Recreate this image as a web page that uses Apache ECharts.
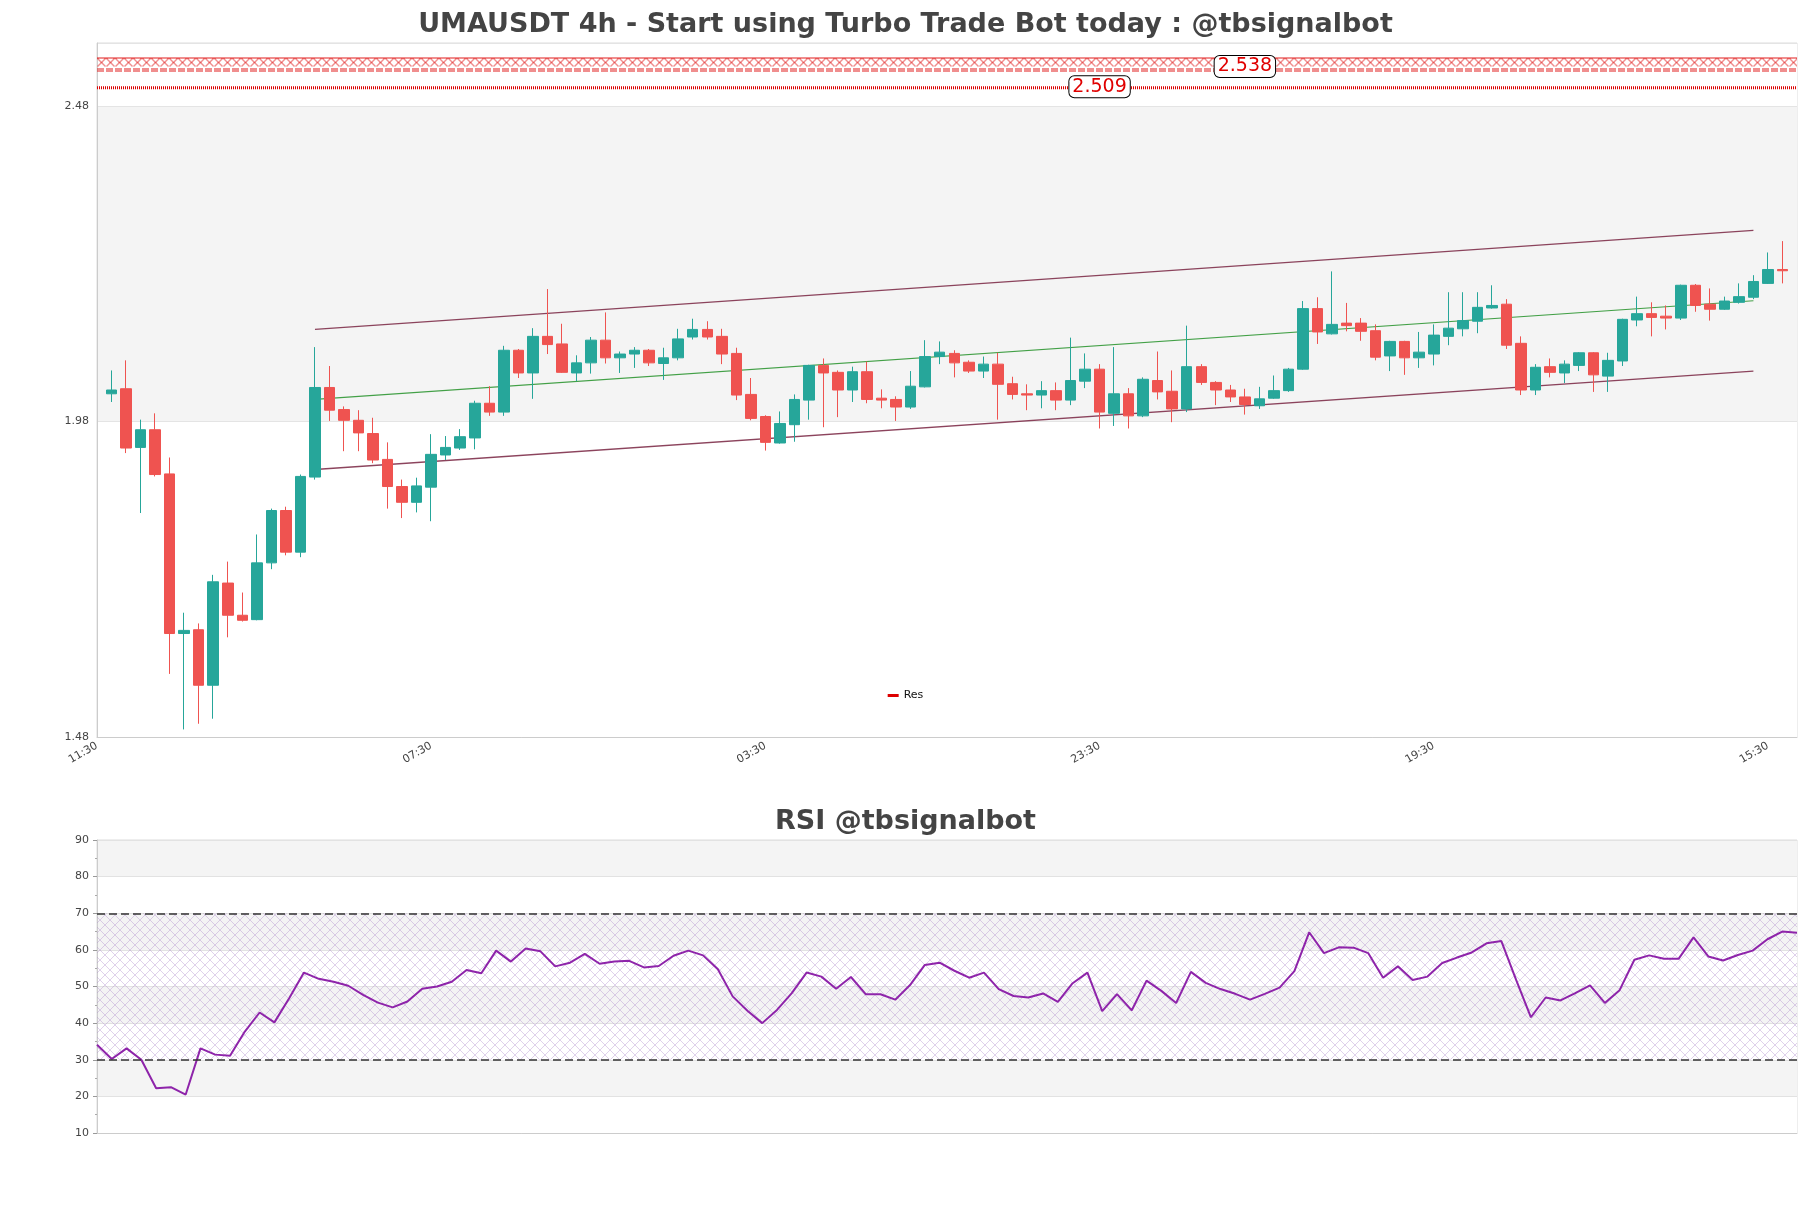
<!DOCTYPE html>
<html><head><meta charset="utf-8">
<script src="https://cdn.jsdelivr.net/npm/echarts@6/dist/echarts.min.js"></script>
<style>html,body{margin:0;padding:0;background:#fff}#c{width:1811px;height:1208px}</style>
</head><body><div id="c"></div>
<script>
// 4h candles; category axis labels (start 11:30, step 4h)
const timeCycle = ['11:30','15:30','19:30','23:30','03:30','07:30'];
const categories = Array.from({length: 118}, (_, i) => timeCycle[i % 6]);
const rsiCategories = categories.slice(1, 117);

const opens = [2.024,2.032,1.939,1.967,1.897,1.644,1.650,1.562,1.724,1.673,
1.666,1.756,1.839,1.773,1.892,2.034,1.999,1.982,1.961,1.920,
1.877,1.852,1.876,1.927,1.938,1.954,2.009,1.995,2.093,2.057,
2.115,2.103,2.057,2.073,2.109,2.081,2.087,2.093,2.072,2.081,
2.114,2.126,2.115,2.088,2.023,1.988,1.946,1.975,2.014,2.069,
2.058,2.030,2.059,2.017,2.015,2.003,2.035,2.083,2.088,2.074,
2.060,2.071,2.040,2.024,2.022,2.029,2.014,2.044,2.063,1.993,
2.024,1.989,2.045,2.028,2.000,2.067,2.042,2.030,2.019,2.005,
2.017,2.029,2.063,2.159,2.119,2.136,2.136,2.124,2.084,2.107,
2.081,2.087,2.115,2.127,2.139,2.160,2.166,2.104,2.030,2.067,
2.057,2.069,2.089,2.052,2.076,2.141,2.151,2.147,2.144,2.196,
2.166,2.158,2.169,2.177,2.199,2.221];
const closes = [2.030,1.938,1.967,1.896,1.644,1.649,1.562,1.726,1.673,1.665,
1.756,1.839,1.773,1.893,2.034,1.998,1.982,1.962,1.919,1.877,
1.852,1.878,1.928,1.939,1.956,2.009,1.995,2.093,2.057,2.115,
2.102,2.058,2.073,2.109,2.081,2.087,2.093,2.073,2.081,2.111,
2.126,2.114,2.087,2.022,1.985,1.947,1.977,2.015,2.069,2.057,
2.030,2.059,2.015,2.014,2.003,2.036,2.083,2.090,2.073,2.060,
2.071,2.039,2.023,2.022,2.029,2.014,2.045,2.063,1.995,2.024,
1.989,2.047,2.027,2.000,2.067,2.042,2.030,2.019,2.007,2.016,
2.029,2.063,2.159,2.122,2.134,2.132,2.123,2.082,2.107,2.081,
2.090,2.117,2.128,2.140,2.161,2.164,2.101,2.030,2.066,2.058,
2.071,2.089,2.054,2.077,2.142,2.151,2.145,2.144,2.196,2.164,
2.158,2.171,2.178,2.202,2.221,2.219];
const lows = [2.011,1.930,1.835,1.893,1.580,1.492,1.501,1.509,1.638,1.663,
1.665,1.746,1.768,1.765,1.888,1.981,1.933,1.933,1.914,1.842,
1.827,1.836,1.822,1.919,1.935,1.936,1.989,1.989,2.049,2.016,
2.087,2.057,2.044,2.056,2.072,2.057,2.065,2.068,2.046,2.077,
2.110,2.110,2.071,2.014,1.982,1.934,1.945,1.948,1.983,1.971,
1.987,2.011,2.009,2.001,1.981,2.000,2.034,2.071,2.050,2.057,
2.049,1.983,2.015,1.998,2.001,1.998,2.006,2.033,1.969,1.973,
1.969,1.987,2.015,1.979,1.995,2.038,2.006,2.011,1.991,2.000,
2.016,2.027,2.062,2.103,2.118,2.123,2.108,2.077,2.060,2.054,
2.065,2.069,2.101,2.115,2.120,2.159,2.095,2.022,2.022,2.050,
2.041,2.060,2.027,2.027,2.068,2.131,2.115,2.126,2.141,2.154,
2.140,2.157,2.167,2.174,2.198,2.199];
const highs = [2.061,2.077,1.983,1.993,1.923,1.677,1.660,1.737,1.758,1.709,
1.801,1.842,1.845,1.896,2.098,2.068,2.004,1.998,1.986,1.947,
1.888,1.891,1.960,1.957,1.968,2.013,2.036,2.100,2.095,2.128,
2.190,2.135,2.085,2.114,2.153,2.091,2.098,2.095,2.097,2.127,
2.143,2.139,2.127,2.097,2.049,1.990,1.996,2.023,2.070,2.080,
2.061,2.067,2.075,2.031,2.020,2.060,2.109,2.107,2.093,2.077,
2.083,2.089,2.051,2.039,2.044,2.042,2.113,2.088,2.071,2.098,
2.033,2.050,2.091,2.061,2.132,2.071,2.044,2.038,2.032,2.035,
2.053,2.065,2.171,2.177,2.218,2.168,2.144,2.134,2.108,2.108,
2.122,2.134,2.185,2.185,2.185,2.196,2.174,2.115,2.071,2.080,
2.077,2.090,2.090,2.089,2.143,2.178,2.169,2.164,2.197,2.198,
2.191,2.178,2.199,2.212,2.248,2.266];

const rsiValues = [34.1,30.2,33.1,30.0,22.2,22.5,20.5,33.1,31.4,31.1,
37.7,42.9,40.2,46.8,53.8,52.1,51.3,50.2,47.7,45.6,
44.3,45.9,49.4,50.0,51.3,54.5,53.6,59.8,56.8,60.4,
59.6,55.5,56.5,58.9,56.2,56.8,57.0,55.2,55.6,58.4,
59.8,58.5,54.7,47.3,43.4,40.0,43.6,48.2,53.8,52.7,
49.4,52.6,47.9,47.9,46.4,50.4,55.9,56.5,54.3,52.4,
53.8,49.3,47.4,47.0,48.1,45.8,50.9,53.8,43.3,47.9,
43.5,51.6,48.8,45.5,54.0,51.0,49.3,48.0,46.4,48.0,
49.7,54.2,64.8,59.1,60.7,60.6,59.1,52.4,55.5,51.8,
52.7,56.4,57.9,59.3,61.8,62.4,51.8,41.6,47.0,46.2,
48.2,50.3,45.5,49.0,57.3,58.5,57.6,57.6,63.4,58.2,
57.1,58.6,59.8,62.9,65.0,64.7];

const mainTicks = [1.48, 1.98, 2.48];
const rsiTicks = [10, 20, 30, 40, 50, 60, 70, 80, 90];
const resLevels = [2.538, 2.509];
const resLabelIdx = [79, 69];
const rsiBands = [30, 70];
const channelIdx = [15, 114];
const channelUpper = [2.126, 2.283];
const channelMid = [2.015, 2.1715];
const channelLower = [1.904, 2.060];

// hourglass motif drawn in the upper 14px of a 24px-wide stroke
function hourglassTile() {
  const c = document.createElement('canvas');
  c.width = 9; c.height = 24;
  const g = c.getContext('2d');
  g.strokeStyle = '#e01c1c'; g.lineWidth = 1;
  g.beginPath();
  g.moveTo(0, 0.5); g.lineTo(9, 0.5);
  g.moveTo(0.5, 1); g.lineTo(8.5, 9);
  g.moveTo(8.5, 1); g.lineTo(0.5, 9);
  g.stroke();
  g.beginPath();
  g.moveTo(0, 11.5); g.lineTo(7, 11.5);
  g.moveTo(0, 13.5); g.lineTo(7, 13.5);
  g.stroke();
  return c;
}
function hatchTile() {
  const c = document.createElement('canvas');
  c.width = 10; c.height = 10;
  const g = c.getContext('2d');
  g.strokeStyle = 'rgba(175,140,205,0.5)'; g.lineWidth = 0.8;
  g.beginPath();
  g.moveTo(0, 0); g.lineTo(10, 10);
  g.moveTo(10, 0); g.lineTo(0, 10);
  g.stroke();
  return c;
}
const hg = hourglassTile();
const hatch = hatchTile();

const FONT = 'DejaVu Sans';

function buildOption(patternY) {
  const candleData = opens.map((o, k) => [k + 1, o, closes[k], lows[k], highs[k]]);
  const chan = (vals) => channelIdx.map((x, i) => [x, vals[i]]);
  return {
    animation: false,
    backgroundColor: '#fff',
    title: [
      {text: 'UMAUSDT 4h - Start using Turbo Trade Bot today : @tbsignalbot', left: 'center', top: 10, padding: 0,
       textStyle: {fontSize: 27, fontWeight: 'bold', color: '#444', fontFamily: FONT, lineHeight: 30}},
      {text: 'RSI @tbsignalbot', left: 'center', top: 807, padding: 0,
       textStyle: {fontSize: 27, fontWeight: 'bold', color: '#444', fontFamily: FONT, lineHeight: 30}}
    ],
    legend: {data: ['Res'], top: 685, left: 'center', icon: 'rect', itemWidth: 11, itemHeight: 3,
      textStyle: {fontSize: 11, color: '#111', fontFamily: FONT}},
    grid: [
      {left: 97, right: 14, top: 43, height: 694, show: true, borderColor: '#dddddd', borderWidth: 1, outerBoundsMode: 'none', containLabel: false},
      {left: 97, right: 14, top: 840, height: 293, show: true, borderColor: '#dddddd', borderWidth: 1, outerBoundsMode: 'none', containLabel: false}
    ],
    xAxis: [
      {type: 'category', gridIndex: 0, data: categories, boundaryGap: false,
       axisLine: {lineStyle: {color: '#cccccc'}}, axisTick: {show: false},
       axisLabel: {interval: 22, rotate: 30, fontSize: 11, color: '#444', fontFamily: FONT, margin: 8},
       splitLine: {show: false}},
      {type: 'category', gridIndex: 1, data: rsiCategories, boundaryGap: false,
       axisLine: {lineStyle: {color: '#cccccc'}}, axisTick: {show: false}, axisLabel: {show: false},
       splitLine: {show: false}}
    ],
    yAxis: [
      {type: 'value', gridIndex: 0, min: mainTicks[0], max: 2.58, interval: 0.5,
       axisLine: {show: true, lineStyle: {color: '#cccccc'}}, axisTick: {show: false},
       axisLabel: {fontSize: 11, color: '#444', fontFamily: FONT, showMaxLabel: false,
         formatter: v => mainTicks.some(t => Math.abs(t - v) < 1e-6) ? v.toFixed(2) : ''},
       splitLine: {lineStyle: {color: '#e4e4e4'}},
       splitArea: {show: true, areaStyle: {color: ['#ffffff', '#f4f4f4']}}},
      {type: 'value', gridIndex: 1, min: rsiTicks[0], max: rsiTicks[rsiTicks.length - 1], interval: 10,
       axisLine: {show: true, lineStyle: {color: '#cccccc'}},
       axisTick: {show: true, length: 4, lineStyle: {color: '#999'}},
       minorTick: {show: true, splitNumber: 2, length: 2, lineStyle: {color: '#aaa'}},
       axisLabel: {fontSize: 11, color: '#444', fontFamily: FONT},
       splitLine: {lineStyle: {color: '#e2e2e2'}},
       splitArea: {show: true, areaStyle: {color: ['#ffffff', '#f4f4f4']}}}
    ],
    series: [
      {name: 'chanUpper', type: 'line', xAxisIndex: 0, yAxisIndex: 0, data: chan(channelUpper), symbol: 'none', silent: true,
       lineStyle: {color: 'rgba(120,35,65,0.85)', width: 1.3}, z: 2},
      {name: 'chanMid', type: 'line', xAxisIndex: 0, yAxisIndex: 0, data: chan(channelMid), symbol: 'none', silent: true,
       lineStyle: {color: '#43a047', width: 1.2}, z: 2},
      {name: 'chanLower', type: 'line', xAxisIndex: 0, yAxisIndex: 0, data: chan(channelLower), symbol: 'none', silent: true,
       lineStyle: {color: 'rgba(120,35,65,0.85)', width: 1.3}, z: 2},
      {name: 'UMAUSDT', type: 'candlestick', xAxisIndex: 0, yAxisIndex: 0, data: candleData,
       encode: {x: 0, y: [1, 2, 3, 4]}, barWidth: 11, z: 3,
       itemStyle: {color: '#26a69a', color0: '#ef5350', borderColor: '#26a69a', borderColor0: '#ef5350', borderWidth: 1}},
      {name: 'Res', type: 'line', xAxisIndex: 0, yAxisIndex: 0, data: categories.map(() => resLevels[1]),
       symbol: 'none', silent: true, z: 4, itemStyle: {color: '#dd0000'},
       lineStyle: {color: '#dd0000', width: 3, type: [1, 1]},
       markLine: {silent: true, symbol: ['none', 'none'], label: {show: false},
         lineStyle: {color: {image: hg, repeat: 'repeat', x: 97, y: patternY - 12}, width: 24, type: 'solid', opacity: 1},
         data: [{yAxis: resLevels[0]}]},
       markPoint: {silent: true, symbol: 'circle', symbolSize: 1, itemStyle: {color: 'rgba(0,0,0,0)'},
         label: {show: true, position: 'inside', formatter: p => p.value, color: '#e00000', fontSize: 19, fontFamily: FONT,
           backgroundColor: '#fff', borderColor: '#000', borderWidth: 1, borderRadius: 5, padding: [1, 3]},
         data: resLevels.map((v, i) => ({coord: [resLabelIdx[i], v], value: v.toFixed(3),
           label: {offset: [0, i === 0 ? -3 : -1]}}))}},
      {name: 'RSI', type: 'line', xAxisIndex: 1, yAxisIndex: 1, data: rsiValues, symbol: 'none', silent: true, z: 4,
       lineStyle: {color: '#8e24aa', width: 2}, itemStyle: {color: '#8e24aa'},
       markLine: {silent: true, symbol: ['none', 'none'], label: {show: false},
         lineStyle: {color: '#333', type: [8, 4], width: 1.5},
         data: [{yAxis: rsiBands[1]}, {yAxis: rsiBands[0]}]},
       markArea: {silent: true, label: {show: false},
         itemStyle: {color: {image: hatch, repeat: 'repeat'}},
         data: [[{yAxis: rsiBands[0]}, {yAxis: rsiBands[1]}]]}}
    ]
  };
}

const chart = echarts.init(document.getElementById('c'), null, {renderer: 'canvas', width: 1811, height: 1208});
chart.setOption(buildOption(0));
const py = chart.convertToPixel({gridIndex: 0}, [0, resLevels[0]])[1];
chart.setOption(buildOption(py), true);
</script>
</body></html>
